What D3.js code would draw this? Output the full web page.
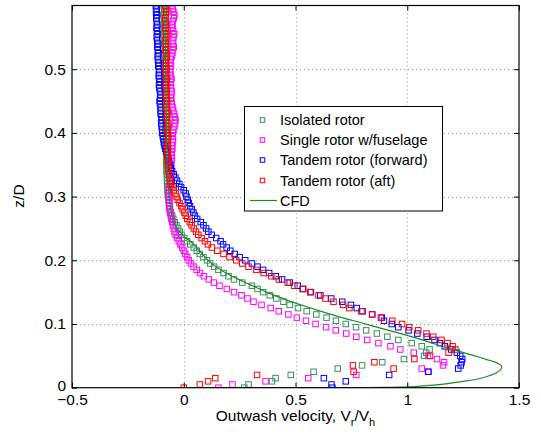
<!DOCTYPE html>
<html><head><meta charset="utf-8">
<script src="https://cdn.jsdelivr.net/npm/d3@7"></script>
<style>
html,body{margin:0;padding:0;background:#fff;}
svg{display:block;font-family:"Liberation Sans",Arial,Helvetica,sans-serif;}
</style></head><body>
<svg id="chart" width="541" height="439"></svg>
<script>
// Measurement heights z/D shared by the four probe traverses
const zLevels = [0.000,0.005,0.010,0.015,0.020,0.025,0.030,0.035,0.040,0.045,0.050,0.055,0.060,0.065,0.070,0.075,0.080,0.085,0.090,0.095,
0.100,0.105,0.110,0.115,0.120,0.125,0.130,0.135,0.140,0.145,0.150,0.155,0.160,0.165,0.170,0.175,0.180,0.185,0.190,0.195,
0.200,0.205,0.210,0.215,0.220,0.225,0.230,0.235,0.240,0.245,0.250,0.255,0.260,0.265,0.270,0.275,0.280,0.285,0.290,0.295,
0.300,0.305,0.310,0.315,0.320,0.325,0.330,0.335,0.340,0.345,0.350,0.355,0.360,0.365,0.370,0.375,0.380,0.385,0.390,0.395,
0.400,0.405,0.410,0.415,0.420,0.425,0.430,0.435,0.440,0.445,0.450,0.455,0.460,0.465,0.470,0.475,0.480,0.485,0.490,0.495,
0.500,0.505,0.510,0.515,0.520,0.525,0.530,0.535,0.540,0.545,0.550,0.555,0.560,0.565,0.570,0.575,0.580,0.585,0.590,0.595,0.600];

// Outwash velocity Vr/Vh at each height
const isolatedRotor = [0.271,0.290,0.395,0.411,0.479,0.581,0.689,0.798,0.888,0.985,1.075,1.085,1.100,1.065,1.020,0.960,0.911,0.864,0.816,0.771,
0.725,0.681,0.639,0.593,0.550,0.511,0.474,0.446,0.414,0.385,0.355,0.330,0.305,0.262,0.225,0.200,0.178,0.155,0.136,0.118,
0.104,0.088,0.072,0.058,0.045,0.029,0.015,0.002,-0.010,-0.018,-0.025,-0.033,-0.040,-0.047,-0.052,-0.057,-0.061,-0.064,-0.066,-0.068,
-0.070,-0.071,-0.073,-0.072,-0.074,-0.075,-0.073,-0.076,-0.077,-0.075,-0.078,-0.079,-0.077,-0.076,-0.079,-0.080,-0.078,-0.081,-0.079,-0.077,
-0.080,-0.082,-0.080,-0.078,-0.081,-0.083,-0.080,-0.079,-0.082,-0.084,-0.081,-0.080,-0.083,-0.085,-0.082,-0.081,-0.084,-0.086,-0.083,-0.082,
-0.085,-0.087,-0.084,-0.083,-0.086,-0.088,-0.085,-0.084,-0.087,-0.089,-0.086,-0.085,-0.088,-0.090,-0.087,-0.086,-0.089,-0.091,-0.088,-0.087,-0.090];

const singleFuselage = [0.155,0.218,0.366,0.557,0.772,1.093,1.065,1.160,1.165,1.133,1.093,1.029,0.969,0.925,0.871,0.821,0.772,0.727,0.680,0.637,
0.590,0.547,0.506,0.468,0.425,0.389,0.348,0.312,0.285,0.258,0.225,0.193,0.160,0.135,0.112,0.090,0.073,0.058,0.044,0.032,
0.022,0.015,0.007,0.001,-0.007,-0.015,-0.022,-0.029,-0.036,-0.041,-0.045,-0.048,-0.051,-0.055,-0.058,-0.061,-0.063,-0.065,-0.066,-0.064,
-0.066,-0.067,-0.065,-0.066,-0.063,-0.060,-0.058,-0.061,-0.059,-0.056,-0.058,-0.055,-0.053,-0.056,-0.054,-0.051,-0.053,-0.050,-0.048,-0.051,
-0.049,-0.046,-0.042,-0.039,-0.037,-0.040,-0.043,-0.047,-0.050,-0.053,-0.055,-0.058,-0.056,-0.053,-0.057,-0.060,-0.058,-0.055,-0.059,-0.062,
-0.060,-0.057,-0.061,-0.058,-0.054,-0.051,-0.048,-0.045,-0.048,-0.050,-0.046,-0.043,-0.047,-0.050,-0.053,-0.049,-0.045,-0.042,-0.046,-0.049,-0.052];

const tandemForward = [0.665,0.661,0.725,0.627,0.919,1.095,1.228,1.239,1.243,1.246,1.237,1.222,1.197,1.168,1.146,1.122,1.087,1.045,1.006,0.960,
0.931,0.896,0.886,0.843,0.800,0.774,0.748,0.709,0.660,0.611,0.569,0.532,0.510,0.474,0.440,0.412,0.382,0.355,0.330,0.305,
0.275,0.250,0.228,0.208,0.192,0.176,0.165,0.145,0.125,0.110,0.100,0.088,0.076,0.060,0.050,0.043,0.036,0.028,0.022,0.018,
0.012,0.008,0.000,-0.012,-0.020,-0.030,-0.038,-0.045,-0.052,-0.058,-0.063,-0.066,-0.070,-0.073,-0.077,-0.082,-0.086,-0.089,-0.091,-0.094,
-0.097,-0.096,-0.099,-0.101,-0.098,-0.100,-0.103,-0.104,-0.102,-0.106,-0.108,-0.105,-0.103,-0.106,-0.109,-0.111,-0.107,-0.110,-0.112,-0.109,
-0.111,-0.114,-0.112,-0.115,-0.117,-0.113,-0.116,-0.118,-0.115,-0.119,-0.121,-0.117,-0.120,-0.122,-0.118,-0.121,-0.123,-0.120,-0.124,-0.121,-0.125];

const tandemAft = [0.000,0.072,0.109,0.141,0.328,0.760,0.939,0.757,0.853,1.032,1.102,1.185,1.215,1.203,1.180,1.153,1.116,1.086,1.049,1.009,
0.977,0.933,0.882,0.843,0.795,0.741,0.713,0.670,0.634,0.603,0.566,0.535,0.495,0.465,0.425,0.392,0.358,0.325,0.290,0.262,
0.235,0.205,0.178,0.150,0.126,0.108,0.095,0.080,0.065,0.055,0.045,0.035,0.027,0.016,0.009,0.003,-0.005,-0.011,-0.019,-0.027,
-0.032,-0.037,-0.045,-0.051,-0.058,-0.062,-0.064,-0.066,-0.068,-0.067,-0.070,-0.072,-0.069,-0.071,-0.073,-0.070,-0.072,-0.074,-0.071,-0.069,
-0.072,-0.075,-0.073,-0.070,-0.074,-0.076,-0.073,-0.075,-0.078,-0.076,-0.074,-0.077,-0.079,-0.076,-0.078,-0.080,-0.077,-0.075,-0.078,-0.080,
-0.077,-0.079,-0.081,-0.078,-0.076,-0.079,-0.081,-0.078,-0.080,-0.082,-0.079,-0.077,-0.080,-0.082,-0.079,-0.081,-0.083,-0.080,-0.078,-0.081,-0.083];

// CFD outwash profile (velocity, height)
const cfdX = [0.000,0.300,0.600,0.815,0.922,1.030,1.142,1.251,1.320,1.366,1.401,1.419,1.422,1.412,1.391,1.352,1.313,1.267,1.219,1.159,
1.095,1.030,0.955,0.880,0.794,0.708,0.622,0.550,0.490,0.450,0.407,0.370,0.320,0.270,0.218,0.165,0.116,0.075,0.036,0.000,
-0.025,-0.045,-0.058,-0.068,-0.074,-0.077,-0.079,-0.081,-0.083,-0.085];
const cfdZ = [0.000,0.000,0.000,0.0002,0.0007,0.0017,0.0047,0.0099,0.0140,0.0188,0.0240,0.0290,0.0335,0.0370,0.0405,0.0445,0.0490,0.0535,0.0585,0.0645,
0.0720,0.0790,0.0865,0.0935,0.1020,0.1100,0.1190,0.1270,0.1340,0.1390,0.1450,0.1500,0.1580,0.1660,0.1745,0.1850,0.1980,0.2130,0.2280,0.2380,
0.2480,0.2600,0.2800,0.3100,0.3500,0.4000,0.4500,0.5000,0.5500,0.6000];

const seriesNames = ["Isolated rotor","Single rotor w/fuselage","Tandem rotor (forward)","Tandem rotor (aft)"];
const seriesColors = ["#3a8f5f","#ff00ff","#0000ff","#ff0000"];
const seriesValues = [isolatedRotor, singleFuselage, tandemForward, tandemAft];
const cfdName = "CFD";
const cfdColor = "#1f8a2c";

const xTicks = [-0.5,0,0.5,1,1.5];
const yTicks = [0,0.1,0.2,0.3,0.4,0.5];

const svg = d3.select("#chart");
const x = d3.scaleLinear().domain([-0.5,1.5]).range([72,519]);
const y = d3.scaleLinear().domain([0,0.6]).range([387.7,5.5]);
const [x0,x1] = x.range(), [y0,y1] = y.range();

// dotted grid
const grid = svg.append("g").attr("stroke","#9a9a9a").attr("stroke-width",1).attr("stroke-dasharray","1,3");
grid.selectAll("line.v").data(xTicks.filter(t=>t>-0.5&&t<1.5)).join("line")
  .attr("x1",d=>Math.round(x(d))+0.5).attr("x2",d=>Math.round(x(d))+0.5).attr("y1",y1).attr("y2",y0);
grid.selectAll("line.h").data(yTicks.filter(t=>t>0)).join("line")
  .attr("y1",d=>Math.round(y(d))+0.5).attr("y2",d=>Math.round(y(d))+0.5).attr("x1",x0).attr("x2",x1);

// clip to plot area
svg.append("clipPath").attr("id","plotClip").append("rect")
  .attr("x",x0).attr("y",y1).attr("width",x1-x0).attr("height",y0-y1);
const plot = svg.append("g").attr("clip-path","url(#plotClip)");

// measured profiles as open squares
const s = 5.5;
seriesValues.forEach((vals,k)=>{
  const pts = vals.map((v,i)=>({v, z:zLevels[i]}));
  plot.append("g").attr("fill","none").attr("stroke",seriesColors[k]).attr("stroke-width",1)
    .selectAll("rect").data(pts).join("rect")
    .attr("x",d=>x(d.v)-s/2).attr("y",d=>y(d.z)-s/2).attr("width",s).attr("height",s);
});

// CFD curve
const cfdPts = cfdX.map((v,i)=>[v,cfdZ[i]]);
plot.append("path").datum(cfdPts)
  .attr("fill","none").attr("stroke",cfdColor).attr("stroke-width",1.2)
  .attr("d",d3.line().x(d=>x(d[0])).y(d=>y(d[1])).curve(d3.curveCatmullRom.alpha(0.5)));

// axes with inward ticks
const fontSize = 15.5;
const ax = d3.axisBottom(x).tickValues(xTicks).tickSizeInner(-5).tickSizeOuter(0).tickPadding(6.5)
  .tickFormat(d=>d<0?"\u2212"+Math.abs(d):String(d));
const gx = svg.append("g").attr("transform",`translate(0,${y0})`).call(ax);
const ay = d3.axisLeft(y).tickValues(yTicks).tickSizeInner(-5).tickSizeOuter(0).tickPadding(6)
  .tickFormat(d=>String(d));
const gy = svg.append("g").attr("transform",`translate(${x0},0)`).call(ay);
const gt = svg.append("g").attr("transform",`translate(0,${y1})`)
  .call(d3.axisTop(x).tickValues(xTicks).tickSizeInner(-5).tickSizeOuter(0).tickFormat(""));
const gr = svg.append("g").attr("transform",`translate(${x1},0)`)
  .call(d3.axisRight(y).tickValues(yTicks).tickSizeInner(-5).tickSizeOuter(0).tickFormat(""));
[gx,gy,gt,gr].forEach(g=>{
  g.select(".domain").remove();
  g.selectAll("line").attr("stroke","#000");
  g.selectAll("text").attr("font-size",fontSize).attr("fill","#000")
    .attr("font-family","'Liberation Sans',Arial,Helvetica,sans-serif");
});
// keep the origin label on the y axis clear of the x axis labels
gy.selectAll("text").filter(d=>d===0).attr("dy","0.2em");

// frame
svg.append("rect").attr("x",x0).attr("y",y1).attr("width",x1-x0).attr("height",y0-y1)
  .attr("fill","none").attr("stroke","#000").attr("stroke-width",1.2);

// axis titles
const xt = svg.append("text").attr("x",(x0+x1)/2).attr("y",421).attr("text-anchor","middle")
  .attr("font-size",fontSize).attr("fill","#000");
xt.append("tspan").text("Outwash velocity, V");
xt.append("tspan").attr("dy",5).attr("font-size",11).text("r");
xt.append("tspan").attr("dy",-5).text("/V");
xt.append("tspan").attr("dy",5).attr("font-size",11).text("h");

svg.append("text").attr("transform",`translate(24,196) rotate(-90)`).attr("text-anchor","middle")
  .attr("font-size",fontSize).attr("fill","#000").text("z/D");

// legend
const legendFont = 14.5;
const lg = svg.append("g");
const lx = 244.5, ly = 106.5, lw = 198, lh = 104.5;
lg.append("rect").attr("x",lx).attr("y",ly).attr("width",lw).attr("height",lh)
  .attr("fill","#fff").attr("stroke","#000").attr("stroke-width",1);
const rowY = [120,140,160,180.5,200.5];
seriesNames.forEach((name,k)=>{
  lg.append("rect").attr("x",262.5-2.25).attr("y",rowY[k]-2.25).attr("width",4.5).attr("height",4.5)
    .attr("fill","none").attr("stroke",seriesColors[k]).attr("stroke-width",1);
  lg.append("text").attr("x",280).attr("y",rowY[k]).attr("dy","0.36em")
    .attr("font-size",legendFont).attr("fill","#000").text(name);
});
lg.append("line").attr("x1",250).attr("x2",277).attr("y1",rowY[4]).attr("y2",rowY[4])
  .attr("stroke",cfdColor).attr("stroke-width",1.2);
lg.append("text").attr("x",280).attr("y",rowY[4]).attr("dy","0.36em")
  .attr("font-size",legendFont).attr("fill","#000").text(cfdName);
</script>
</body></html>
